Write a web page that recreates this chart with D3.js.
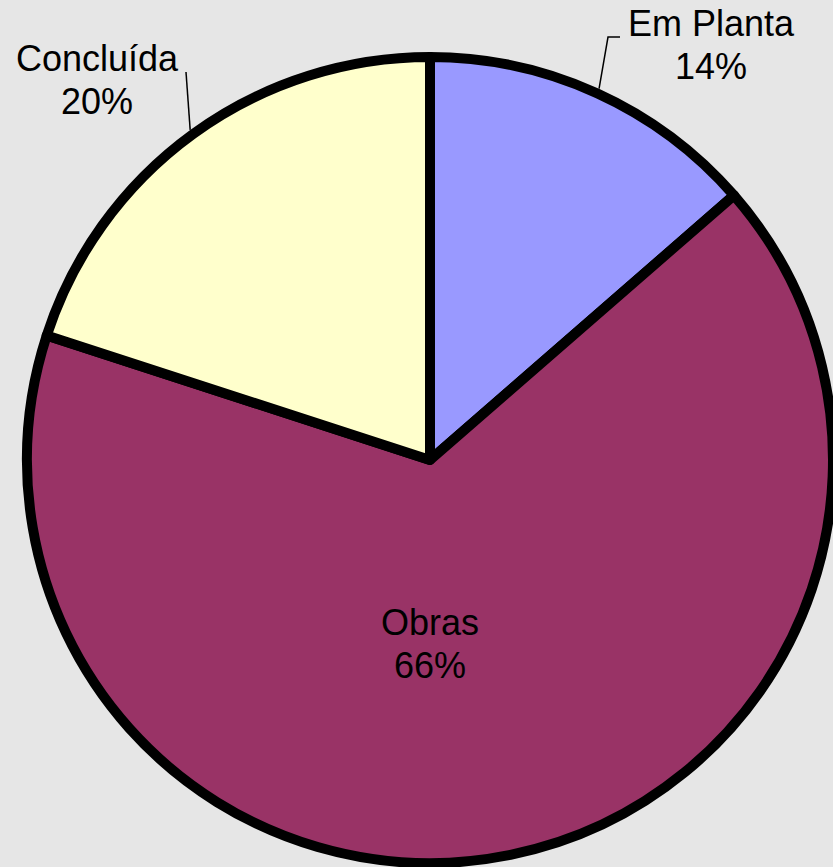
<!DOCTYPE html>
<html>
<head>
<meta charset="utf-8">
<script src="https://cdn.jsdelivr.net/npm/d3@7"></script>
<style>
  body { margin: 0; background: #e6e6e6; }
  svg { display: block; }
</style>
</head>
<body>
<svg></svg>
<script>
// slice data, clockwise from 12 o'clock
let categories = ["Em Planta", "Obras", "Concluída"];
let values = [13.6, 66.4, 20.0];
let colors = ["#9999ff", "#993366", "#ffffcc"];
// label layout: text centre x, first baseline y, and whether a leader line is drawn
let labelX = [711, 430, 97];
let labelY = [36, 635, 71];
let leaderEnd = [[608, 37, 620], null, [186, 72, 186]];

let width = 833;
let height = 867;
let cx = 430;
let cy = 460;
let radius = 403;

let svg = d3.select("svg").attr("width", width).attr("height", height);

let total = d3.sum(values);
let pct = d3.format(".0%");

let pie = d3.pie().sort(null).value((d) => d);
let arcs = pie(values);

let arc = d3.arc().innerRadius(0).outerRadius(radius);
// used to find where a leader line touches the outer edge
let edgeArc = d3.arc().innerRadius(radius + 5).outerRadius(radius + 5);

let g = svg.append("g").attr("transform", "translate(" + cx + "," + cy + ")");

g.selectAll("path")
  .data(arcs)
  .enter()
  .append("path")
  .attr("d", arc)
  .attr("fill", (d, i) => colors[i])
  .attr("stroke", "#000")
  .attr("stroke-width", 10)
  .attr("stroke-linejoin", "round");

//leader lines
arcs.forEach((d, i) => {
  if (!leaderEnd[i]) return;
  let p = edgeArc.centroid(d);
  let e = leaderEnd[i];
  let pts = [
    [p[0] + cx, p[1] + cy],
    [e[0], e[1]],
    [e[2], e[1]],
  ];
  svg
    .append("path")
    .attr("d", d3.line()(pts))
    .attr("fill", "none")
    .attr("stroke", "#000")
    .attr("stroke-width", 1.5);
});

//labels
let labels = svg
  .selectAll("text.lbl")
  .data(arcs)
  .enter()
  .append("text")
  .attr("class", "lbl")
  .attr("text-anchor", "middle")
  .attr("font-family", "Liberation Sans, Arial, sans-serif")
  .attr("font-size", 36)
  .attr("fill", "#000");

labels
  .append("tspan")
  .attr("x", (d, i) => labelX[i])
  .attr("y", (d, i) => labelY[i])
  .text((d, i) => categories[i]);

labels
  .append("tspan")
  .attr("x", (d, i) => labelX[i])
  .attr("y", (d, i) => labelY[i] + 43)
  .text((d) => pct(d.value / total));
</script>
</body>
</html>
